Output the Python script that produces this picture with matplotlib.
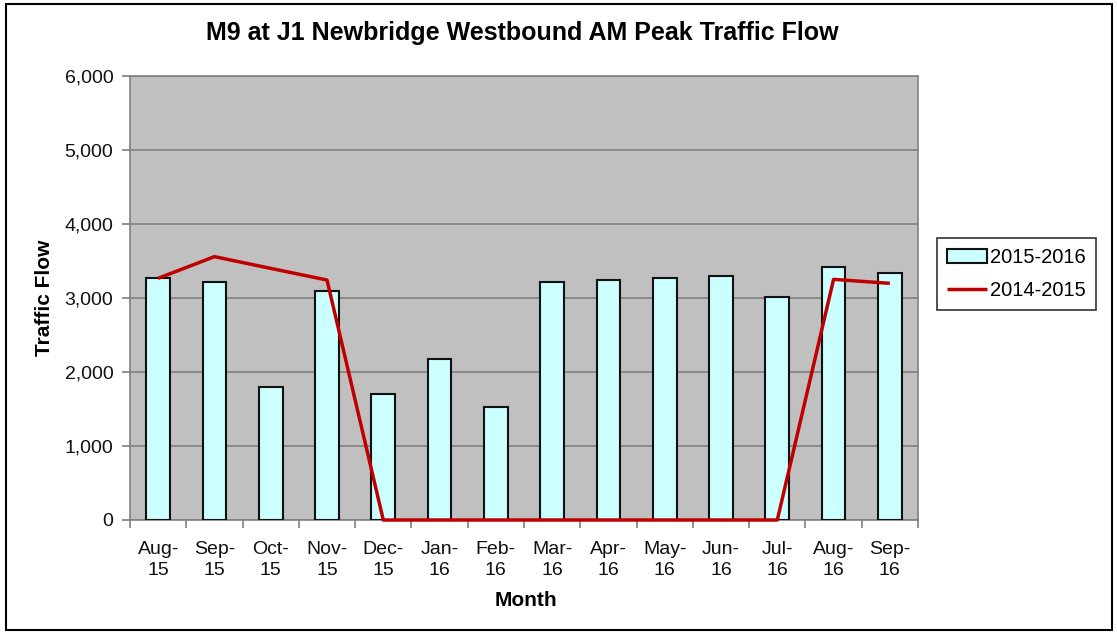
import numpy as np
import matplotlib.pyplot as plt
from matplotlib.patches import Rectangle
from matplotlib.ticker import FuncFormatter

plt.rcParams['font.family'] = ['Liberation Sans', 'DejaVu Sans']

months = ['Aug-\n15', 'Sep-\n15', 'Oct-\n15', 'Nov-\n15', 'Dec-\n15', 'Jan-\n16', 'Feb-\n16',
          'Mar-\n16', 'Apr-\n16', 'May-\n16', 'Jun-\n16', 'Jul-\n16', 'Aug-\n16', 'Sep-\n16']
flow_2015_2016 = [3266, 3212, 1797, 3090, 1698, 2171, 1523,
                  3216, 3239, 3266, 3293, 3014, 3414, 3338]
flow_2014_2015 = [3266, 3559, 3400, 3243, 0, 0, 0,
                  0, 0, 0, 0, 0, 3252, 3198]

fig = plt.figure(figsize=(11.17, 6.34), dpi=100)
ax = fig.add_axes([130/1117, 114/634, 788/1117, 444/634])

x = np.arange(len(months))
ax.set_facecolor('#C0C0C0')
bars = ax.bar(x, flow_2015_2016, width=0.42, color='#CCFFFF', edgecolor='#111111',
              linewidth=1.5, label='2015-2016', zorder=3)
line, = ax.plot(x, flow_2014_2015, color='#C00000', linewidth=2.5, label='2014-2015',
                zorder=4, clip_on=False, solid_capstyle='butt')

ax.set_xlim(-0.5, len(months) - 0.5)
ax.set_ylim(0, 6000)
ax.set_yticks(np.arange(0, 6001, 1000))
ax.yaxis.set_major_formatter(FuncFormatter(lambda v, p: f'{int(v):,}'))
ax.grid(axis='y', color='#808080', linewidth=1.2, zorder=1)

ax.set_xticks(x)
ax.set_xticklabels(months)
ax.set_xticks(np.arange(-0.5, len(months), 1), minor=True)
ax.tick_params(axis='x', which='major', length=0, pad=15, labelsize=14, colors='#111111')
ax.tick_params(axis='x', which='minor', length=6, width=1.2, color='#808080')
ax.tick_params(axis='y', length=6, width=1.2, color='#808080', labelsize=14, pad=6,
               labelcolor='#111111')
for lbl in ax.get_xticklabels():
    lbl.set_linespacing(1.35)

for s in ax.spines.values():
    s.set_color('#808080')
    s.set_linewidth(1.2)

fig.text(526/1117, 1 - 601/634, 'Month', ha='center', va='center',
         fontsize=15, fontweight='bold')
fig.text(45/1117, 1 - 298/634, 'Traffic Flow', ha='center', va='center',
         rotation=90, fontsize=15, fontweight='bold')
fig.text(522/1117, 1 - 33/634, 'M9 at J1 Newbridge Westbound AM Peak Traffic Flow',
         ha='center', va='center', fontsize=18, fontweight='bold')

leg = fig.legend([bars, line], ['2015-2016', '2014-2015'], loc='upper left',
                 bbox_to_anchor=(937/1117, 1 - 238/634),
                 frameon=True, fancybox=False, edgecolor='black', fontsize=14.5,
                 handlelength=2.0, handletextpad=0.15, borderpad=0.5, labelspacing=0.7,
                 borderaxespad=0)
leg.get_frame().set_linewidth(1.2)

fig.patches.append(Rectangle((6/1117, 4/634), 1106/1117, 626/634, transform=fig.transFigure,
                             fill=False, edgecolor='black', linewidth=1.5))

fig.savefig('out.png', dpi=100)
